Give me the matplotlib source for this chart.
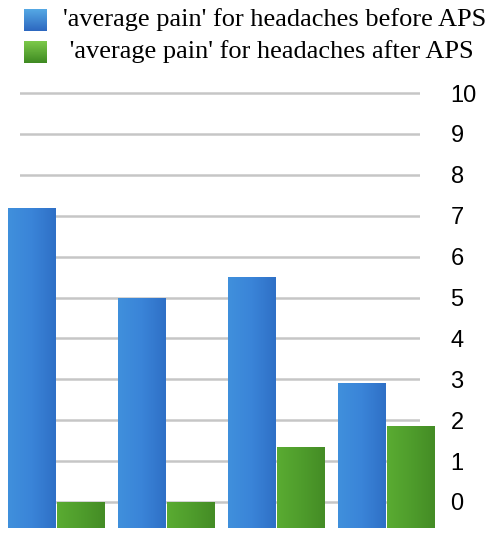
import numpy as np
import matplotlib
matplotlib.use('Agg')
import matplotlib.pyplot as plt
from matplotlib.colors import LinearSegmentedColormap

# data
GROUPS      = ['1', '2', '3', '4']
BEFORE      = [7.2, 5.0, 5.5, 2.9]
AFTER       = [0.0, 0.0, 1.35, 1.85]
LABELS      = ["'average pain' for headaches before APS",
               " 'average pain' for headaches after APS"]
YTICKS      = list(range(0, 11))

BLUE_CMAP  = LinearSegmentedColormap.from_list('b', ['#4090dc', '#3a84d8', '#2f70c6'])
GREEN_CMAP = LinearSegmentedColormap.from_list('g', ['#5aab32', '#4f9d2c', '#448c25'])
LEG_BLUE   = LinearSegmentedColormap.from_list('lb', ['#55a8e4', '#2d68c0'])
LEG_GREEN  = LinearSegmentedColormap.from_list('lg', ['#7cc94a', '#3f8a22'])
FLOOR  = -0.636   # 3D floor sits below the zero line
WIDTH  = 0.43
OFFSET = 0.225

fig = plt.figure(figsize=(4.94, 5.34), dpi=100)
ax = fig.add_axes([20 / 494, 6 / 534, 400 / 494, 439 / 534])

x = np.arange(len(GROUPS))


def gradient_bars(bars, cmap):
    grad = np.linspace(0, 1, 64).reshape(1, -1)
    for b in bars:
        b.set_facecolor('none')
        x0, y0 = b.get_x(), b.get_y()
        im = ax.imshow(grad, cmap=cmap, aspect='auto', zorder=3,
                       extent=[x0, x0 + b.get_width(), y0, y0 + b.get_height()])
        im.set_clip_path(b)
        im.set_clip_on(True)


b1 = ax.bar(x - OFFSET, np.array(BEFORE) - FLOOR, WIDTH, bottom=FLOOR,
            color='#3a84d8', edgecolor='none', zorder=3, clip_on=False)
b2 = ax.bar(x + OFFSET, np.array(AFTER) - FLOOR, WIDTH, bottom=FLOOR,
            color='#4f9d2c', edgecolor='none', zorder=3, clip_on=False)
gradient_bars(b1, BLUE_CMAP)
gradient_bars(b2, GREEN_CMAP)

ax.set_xlim(-0.327, 3.309)
ax.set_ylim(FLOOR, 10.1)
ax.set_yticks(YTICKS)
ax.set_yticklabels([str(t) for t in YTICKS], family='Liberation Sans', fontsize=17)
ax.yaxis.tick_right()
ax.tick_params(axis='y', length=0, pad=22)
ax.set_xticks([])
for s in ax.spines.values():
    s.set_visible(False)
ax.grid(axis='y', color='#c6c6c6', linewidth=1.8, zorder=0)
ax.set_axisbelow(True)

# legend drawn by hand, squares + serif text
for i, (lab, cmap) in enumerate(zip(LABELS, [LEG_BLUE, LEG_GREEN])):
    top = 9 + i * 32
    sq = fig.add_axes([24 / 494, 1 - (top + 22) / 534, 23 / 494, 22 / 534])
    sq.imshow(np.linspace(0, 1, 32).reshape(-1, 1), cmap=cmap, aspect='auto')
    sq.axis('off')
    fig.text(63 / 494, 1 - (top + 11) / 534, lab, family='Liberation Serif',
             fontsize=19, va='center', ha='left')

fig.savefig('out.png', dpi=100)
